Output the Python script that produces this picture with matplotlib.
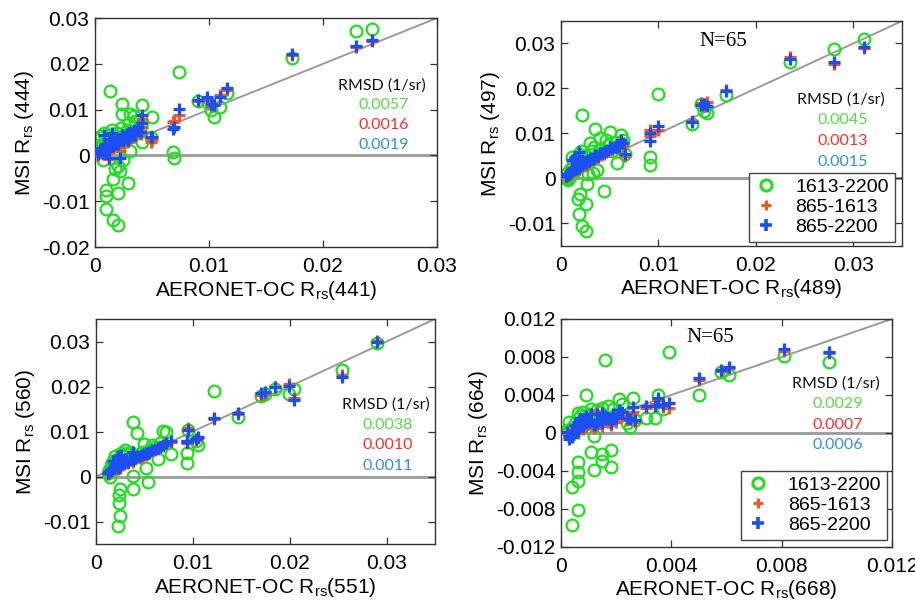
import matplotlib
matplotlib.use("Agg")
import matplotlib.pyplot as plt
from matplotlib.lines import Line2D

plt.rcParams['font.family'] = ['Liberation Sans', 'DejaVu Sans']
plt.rcParams['mathtext.default'] = 'regular'

# ---------------- data ----------------
series_labels = ["1613-2200", "865-1613", "865-2200"]

# Panel 1: 441 / 444
x441 = [0.0243, 0.0229, 0.0173, 0.0116, 0.0110, 0.0104, 0.0102, 0.0098, 0.0090, 0.0074,
        0.0068, 0.0069, 0.0050, 0.0049, 0.0041, 0.0041, 0.0040, 0.0038, 0.0035, 0.0031,
        0.0031, 0.0029, 0.0028, 0.0027, 0.0026, 0.0025, 0.0024, 0.0024, 0.0023, 0.0022,
        0.0021, 0.0020, 0.0020, 0.0020, 0.0019, 0.0018, 0.0017, 0.0016, 0.0016, 0.0015,
        0.0014, 0.0013, 0.0012, 0.0011, 0.0010, 0.0010, 0.0010, 0.0009, 0.0008, 0.0007,
        0.0006, 0.0005, 0.0004, 0.0004, 0.0003, 0.0030, 0.0034, 0.0012, 0.0022]
g444 = [0.0275, 0.0272, 0.0213, 0.0136, 0.0106, 0.0084, 0.0100, 0.0117, 0.0119, 0.0182,
        0.0007, -0.0006, 0.0084, 0.0040, 0.0110, 0.0029, 0.0065, 0.0048, 0.0075, 0.0090,
        0.0010, -0.0061, 0.0055, 0.0035, 0.0045, -0.0010, 0.0113, 0.0090, 0.0060, 0.0040,
        0.0020, -0.0023, -0.0083, -0.0152, 0.0050, -0.0030, 0.0035, -0.0052, -0.0141, 0.0055,
        0.0025, 0.0141, 0.0045, 0.0015, -0.0076, -0.0089, -0.0117, 0.0035, 0.0048, -0.0010,
        0.0020, 0.0042, 0.0022, 0.0040, 0.0010, 0.0070, 0.0085, 0.0030, -0.0034]
r444 = [0.0250, 0.0236, 0.0220, 0.0142, 0.0132, 0.0112, 0.0108, 0.0122, 0.0118, 0.0088,
        0.0072, 0.0075, 0.0034, 0.0030, 0.0080, 0.0062, 0.0047, 0.0058, 0.0040, 0.0044,
        0.0035, 0.0030, 0.0042, 0.0038, 0.0034, 0.0028, 0.0040, 0.0036, 0.0031, 0.0027,
        0.0030, 0.0026, 0.0024, 0.0022, 0.0030, 0.0020, 0.0027, 0.0018, 0.0016, 0.0025,
        0.0020, 0.0030, 0.0022, 0.0010, 0.0012, 0.0008, 0.0006, 0.0018, 0.0015, 0.0003,
        0.0012, 0.0010, 0.0006, 0.0008, 0.0002, 0.0048, 0.0052, -0.0008, 0.0010]
b444 = [0.0253, 0.0238, 0.0222, 0.0148, 0.0128, 0.0110, 0.0113, 0.0127, 0.0120, 0.0101,
        0.0058, 0.0062, 0.0040, 0.0041, 0.0088, 0.0070, 0.0052, 0.0062, 0.0045, 0.0049,
        0.0040, 0.0034, 0.0046, 0.0043, 0.0039, 0.0032, 0.0045, 0.0041, 0.0036, 0.0033,
        0.0035, 0.0031, 0.0028, 0.0026, 0.0034, 0.0025, 0.0032, 0.0022, 0.0020, 0.0050,
        0.0024, 0.0036, 0.0027, 0.0015, 0.0016, 0.0012, 0.0010, 0.0022, 0.0045, 0.0006,
        0.0016, 0.0014, 0.0009, 0.0012, 0.0004, 0.0052, 0.0055, -0.0006, -0.0005]

# Panel 2: 489 / 497
x489 = [0.0311, 0.0280, 0.0235, 0.0169, 0.0150, 0.0147, 0.0144, 0.0134, 0.0100, 0.0091,
        0.0091, 0.0066, 0.0064, 0.0062, 0.0060, 0.0057, 0.0055, 0.0052, 0.0050, 0.0048,
        0.0046, 0.0044, 0.0042, 0.0040, 0.0038, 0.0037, 0.0035, 0.0034, 0.0033, 0.0031,
        0.0030, 0.0029, 0.0027, 0.0026, 0.0026, 0.0025, 0.0024, 0.0022, 0.0022, 0.0021,
        0.0020, 0.0019, 0.0018, 0.0017, 0.0016, 0.0015, 0.0014, 0.0013, 0.0012, 0.0011,
        0.0010, 0.0009, 0.0008, 0.0007, 0.0006, 0.0005, 0.0028, 0.0018]
g497 = [0.0311, 0.0287, 0.0259, 0.0186, 0.0145, 0.0150, 0.0166, 0.0120, 0.0187, 0.0047,
        0.0031, 0.0055, 0.0085, 0.0096, 0.0070, 0.0035, 0.0080, 0.0060, 0.0103, 0.0075,
        0.0085, -0.0027, 0.0065, 0.0090, 0.0055, 0.0018, 0.0111, 0.0070, 0.0012, 0.0060,
        0.0078, 0.0040, -0.0013, -0.0057, -0.0116, 0.0050, 0.0030, 0.0140, -0.0105, 0.0060,
        -0.0034, 0.0045, -0.0078, -0.0045, 0.0035, 0.0025, 0.0040, 0.0015, 0.0030, 0.0047,
        0.0008, 0.0020, 0.0002, -0.0004, 0.0012, 0.0000, 0.0009, 0.0055]
r497 = [0.0290, 0.0255, 0.0270, 0.0196, 0.0170, 0.0160, 0.0168, 0.0128, 0.0108, 0.0107,
        0.0095, 0.0050, 0.0072, 0.0080, 0.0075, 0.0068, 0.0072, 0.0064, 0.0066, 0.0060,
        0.0058, 0.0055, 0.0052, 0.0054, 0.0047, 0.0045, 0.0050, 0.0043, 0.0040, 0.0042,
        0.0040, 0.0036, 0.0035, 0.0032, 0.0030, 0.0034, 0.0030, 0.0036, 0.0027, 0.0033,
        0.0025, 0.0028, 0.0022, 0.0020, 0.0024, 0.0018, 0.0030, 0.0016, 0.0020, 0.0017,
        0.0012, 0.0010, 0.0008, 0.0005, 0.0006, 0.0003, 0.0035, 0.0030]
b497 = [0.0293, 0.0258, 0.0266, 0.0194, 0.0162, 0.0165, 0.0163, 0.0126, 0.0116, 0.0102,
        0.0084, 0.0055, 0.0078, 0.0085, 0.0073, 0.0070, 0.0070, 0.0067, 0.0069, 0.0063,
        0.0062, 0.0058, 0.0056, 0.0057, 0.0050, 0.0049, 0.0052, 0.0046, 0.0044, 0.0045,
        0.0043, 0.0039, 0.0038, 0.0036, 0.0034, 0.0037, 0.0034, 0.0040, 0.0030, 0.0036,
        0.0028, 0.0031, 0.0026, 0.0024, 0.0027, 0.0022, 0.0048, 0.0020, 0.0024, 0.0040,
        0.0015, 0.0013, 0.0011, 0.0008, 0.0009, 0.0005, 0.0040, 0.0058]

# Panel 3: 551 / 560
x551 = [0.0290, 0.0254, 0.0204, 0.0199, 0.0185, 0.0175, 0.0170, 0.0147, 0.0122, 0.0105,
        0.0103, 0.0095, 0.0094, 0.0094, 0.0077, 0.0072, 0.0069, 0.0066, 0.0064, 0.0061,
        0.0058, 0.0055, 0.0054, 0.0052, 0.0050, 0.0048, 0.0045, 0.0042, 0.0040, 0.0038,
        0.0038, 0.0038, 0.0035, 0.0033, 0.0031, 0.0029, 0.0027, 0.0025, 0.0025, 0.0024,
        0.0024, 0.0023, 0.0023, 0.0021, 0.0020, 0.0019, 0.0018, 0.0017, 0.0016, 0.0015,
        0.0014, 0.0013, 0.0012, 0.0026, 0.0030]
g560 = [0.0296, 0.0236, 0.0195, 0.0184, 0.0195, 0.0183, 0.0180, 0.0133, 0.0189, 0.0069,
        0.0080, 0.0104, 0.0053, 0.0029, 0.0051, 0.0098, 0.0102, 0.0075, 0.0040, 0.0065,
        0.0070, 0.0060, -0.0013, 0.0018, 0.0072, 0.0055, 0.0050, 0.0096, 0.0045, 0.0122,
        0.0002, -0.0027, 0.0055, 0.0040, 0.0050, 0.0045, 0.0035, -0.0027, -0.0087, -0.0042,
        -0.0058, -0.0111, 0.0040, 0.0030, 0.0045, 0.0020, 0.0035, 0.0029, 0.0010, 0.0025,
        0.0000, 0.0015, 0.0008, 0.0052, 0.0058]
r560 = [0.0301, 0.0225, 0.0175, 0.0205, 0.0198, 0.0184, 0.0182, 0.0140, 0.0127, 0.0085,
        0.0082, 0.0108, 0.0074, 0.0080, 0.0076, 0.0072, 0.0068, 0.0068, 0.0062, 0.0060,
        0.0056, 0.0052, 0.0050, 0.0048, 0.0047, 0.0044, 0.0042, 0.0043, 0.0040, 0.0045,
        0.0035, 0.0033, 0.0036, 0.0030, 0.0033, 0.0028, 0.0026, 0.0022, 0.0020, 0.0021,
        0.0019, 0.0017, 0.0025, 0.0020, 0.0022, 0.0016, 0.0018, 0.0014, 0.0012, 0.0011,
        0.0010, 0.0008, 0.0006, 0.0030, 0.0034]
b560 = [0.0300, 0.0222, 0.0171, 0.0202, 0.0200, 0.0187, 0.0185, 0.0142, 0.0131, 0.0087,
        0.0084, 0.0104, 0.0076, 0.0078, 0.0078, 0.0075, 0.0070, 0.0066, 0.0064, 0.0062,
        0.0058, 0.0055, 0.0053, 0.0052, 0.0050, 0.0048, 0.0045, 0.0046, 0.0042, 0.0055,
        0.0038, 0.0036, 0.0040, 0.0033, 0.0036, 0.0032, 0.0030, 0.0025, 0.0023, 0.0025,
        0.0022, 0.0020, 0.0045, 0.0024, 0.0028, 0.0020, 0.0034, 0.0017, 0.0015, 0.0014,
        0.0012, 0.0010, 0.0008, 0.0048, 0.0038]

# Panel 4: 668 / 664
x668 = [0.0097, 0.0081, 0.0061, 0.0058, 0.0050, 0.0039, 0.0037, 0.0035, 0.0034, 0.0031,
        0.0026, 0.0025, 0.0024, 0.0021, 0.0020, 0.0019, 0.0018, 0.0018, 0.0017, 0.0016,
        0.0015, 0.0015, 0.0015, 0.0014, 0.0013, 0.0012, 0.0012, 0.0011, 0.0011, 0.0010,
        0.0009, 0.0009, 0.0008, 0.0008, 0.0007, 0.0006, 0.0006, 0.0006, 0.0006, 0.0006,
        0.0005, 0.0004, 0.0004, 0.0004, 0.0003, 0.0003, 0.0002, 0.0027, 0.0022, 0.0013]
g664 = [0.0075, 0.0081, 0.0061, 0.0064, 0.0040, 0.0085, 0.0025, 0.0040, 0.0016, 0.0016,
        0.0037, 0.0006, 0.0010, 0.0036, 0.0020, 0.0025, -0.0018, -0.0036, 0.0028, 0.0077,
        -0.0022, -0.0029, 0.0026, 0.0022, 0.0024, -0.0003, -0.0039, -0.0020, 0.0025, 0.0020,
        0.0040, 0.0015, 0.0022, 0.0008, 0.0018, -0.0031, -0.0041, -0.0051, -0.0081, 0.0021,
        0.0010, -0.0057, -0.0097, 0.0005, 0.0012, 0.0002, 0.0003, 0.0014, 0.0030, 0.0018]
r664 = [0.0084, 0.0086, 0.0068, 0.0065, 0.0056, 0.0026, 0.0027, 0.0035, 0.0030, 0.0026,
        0.0022, 0.0015, 0.0014, 0.0020, 0.0012, 0.0015, 0.0010, 0.0008, 0.0012, 0.0014,
        0.0007, 0.0009, 0.0016, 0.0010, 0.0008, 0.0006, 0.0005, 0.0010, 0.0012, 0.0009,
        0.0014, 0.0006, 0.0010, 0.0004, 0.0012, 0.0003, 0.0002, 0.0001, 0.0000, 0.0008,
        0.0004, -0.0002, -0.0003, -0.0001, -0.0004, -0.0002, 0.0000, 0.0012, 0.0018, 0.0022]
b664 = [0.0085, 0.0088, 0.0069, 0.0066, 0.0058, 0.0032, 0.0029, 0.0037, 0.0028, 0.0028,
        0.0027, 0.0015, 0.0016, 0.0024, 0.0016, 0.0020, 0.0013, 0.0011, 0.0016, 0.0018,
        0.0010, 0.0012, 0.0021, 0.0014, 0.0011, 0.0009, 0.0008, 0.0013, 0.0020, 0.0012,
        0.0018, 0.0010, 0.0015, 0.0007, 0.0016, 0.0005, 0.0004, 0.0003, 0.0002, 0.0012,
        0.0008, -0.0001, -0.0004, 0.0002, -0.0006, -0.0003, 0.0001, 0.0014, 0.0022, 0.0020]

rmsd_444 = ["0.0057", "0.0016", "0.0019"]
rmsd_497 = ["0.0045", "0.0013", "0.0015"]
rmsd_560 = ["0.0038", "0.0010", "0.0011"]
rmsd_664 = ["0.0029", "0.0007", "0.0006"]

xticks_1 = [0, 0.01, 0.02, 0.03]
xticklabels_1 = ["0", "0.01", "0.02", "0.03"]
yticks_1 = [-0.02, -0.01, 0, 0.01, 0.02, 0.03]
yticklabels_1 = ["-0.02", "-0.01", "0", "0.01", "0.02", "0.03"]
yticks_23 = [-0.01, 0, 0.01, 0.02, 0.03]
yticklabels_23 = ["-0.01", "0", "0.01", "0.02", "0.03"]
xticks_4 = [0, 0.004, 0.008, 0.012]
xticklabels_4 = ["0", "0.004", "0.008", "0.012"]
yticks_4 = [-0.012, -0.008, -0.004, 0, 0.004, 0.008, 0.012]
yticklabels_4 = ["-0.012", "-0.008", "-0.004", "0", "0.004", "0.008", "0.012"]

# ---------------- style ----------------
GREEN = '#22dd22'
RED = '#f05a22'
BLUE = '#1a4ff0'
TXT_G = '#55dd44'
TXT_R = '#ff2a2a'
TXT_B = '#2f8ee0'
LINEGRAY = '#9a9a9a'

fig = plt.figure(figsize=(9.15, 6.05), dpi=100)

panels = [
    dict(rect=[0.1038, 0.5917, 0.3738, 0.3785], x=x441, g=g444, r=r444, b=b444,
         xlim=(0, 0.03), ylim=(-0.02, 0.03), xt=xticks_1, xtl=xticklabels_1,
         yt=yticks_1, ytl=yticklabels_1, xl="441", yl="444", rmsd=rmsd_444,
         rpos=(0.84, [0.707, 0.62, 0.533, 0.445]), n=None, legend=None),
    dict(rect=[0.6131, 0.5934, 0.3727, 0.3719], x=x489, g=g497, r=r497, b=b497,
         xlim=(0, 0.035), ylim=(-0.015, 0.035), xt=xticks_1, xtl=xticklabels_1,
         yt=yticks_23, ytl=yticklabels_23, xl="489", yl="497", rmsd=rmsd_497,
         rpos=(0.82, [0.649, 0.56, 0.467, 0.373]), n=(0.475, 0.907), legend=(0.979, 0.018)),
    dict(rect=[0.1049, 0.1008, 0.3705, 0.3719], x=x551, g=g560, r=r560, b=b560,
         xlim=(0, 0.035), ylim=(-0.015, 0.035), xt=xticks_1, xtl=xticklabels_1,
         yt=yticks_23, ytl=yticklabels_23, xl="551", yl="560", rmsd=rmsd_560,
         rpos=(0.855, [0.618, 0.529, 0.44, 0.347]), n=None, legend=None),
    dict(rect=[0.6131, 0.0959, 0.3617, 0.3769], x=x668, g=g664, r=r664, b=b664,
         xlim=(0, 0.012), ylim=(-0.012, 0.012), xt=xticks_4, xtl=xticklabels_4,
         yt=yticks_4, ytl=yticklabels_4, xl="668", yl="664", rmsd=rmsd_664,
         rpos=(0.83, [0.715, 0.627, 0.535, 0.447]), n=(0.45, 0.92), legend=(0.985, 0.031)),
]

for p in panels:
    ax = fig.add_axes(p['rect'])
    lim_hi = p['xlim'][1]
    ax.plot([0, lim_hi], [0, lim_hi], color=LINEGRAY, lw=1.4, zorder=1)
    ax.axhline(0, color=LINEGRAY, lw=2.0, zorder=1)
    ax.plot(p['x'], p['g'], linestyle='none', marker='o', ms=8.5, mfc='none',
            mec=GREEN, mew=1.6, zorder=2)
    ax.plot(p['x'], p['r'], linestyle='none', marker='+', ms=9, mec=RED, mew=2.3, zorder=3)
    ax.plot(p['x'], p['b'], linestyle='none', marker='+', ms=9, mec=BLUE, mew=2.3, zorder=4)
    ax.set_xlim(*p['xlim'])
    ax.set_ylim(*p['ylim'])
    ax.set_xticks(p['xt'])
    ax.set_xticklabels(p['xtl'])
    ax.set_yticks(p['yt'])
    ax.set_yticklabels(p['ytl'])
    ax.tick_params(direction='in', top=True, right=True, length=5, width=0.9,
                   labelsize=15, color='#333333')
    ax.tick_params(axis='x', pad=7)
    ax.tick_params(axis='y', pad=4)
    for s in ax.spines.values():
        s.set_color('#333333')
        s.set_linewidth(1.0)
    ax.set_xlabel("AERONET-OC R$_{rs}$(" + p['xl'] + ")", fontsize=15, labelpad=2)
    ax.set_ylabel("MSI R$_{rs}$ (" + p['yl'] + ")", fontsize=15, labelpad=4)

    rx, rys = p['rpos']
    ax.text(rx, rys[0], "RMSD (1/sr)", transform=ax.transAxes, ha='center', va='center',
            fontsize=11.5, family='Lato', color='#111111')
    for val, yy, col in zip(p['rmsd'], rys[1:], [TXT_G, TXT_R, TXT_B]):
        ax.text(rx + 0.005, yy, val, transform=ax.transAxes, ha='center', va='center',
                fontsize=11.5, family='Lato', color=col)
    if p['n'] is not None:
        ax.text(p['n'][0], p['n'][1], "N=65", transform=ax.transAxes, ha='center',
                va='center', fontsize=15, family='Liberation Serif')
    if p['legend'] is not None:
        handles = [
            Line2D([], [], linestyle='none', marker='o', ms=8, mfc='none', mec=GREEN, mew=2.2),
            Line2D([], [], linestyle='none', marker='+', ms=7, mec=RED, mew=2.3),
            Line2D([], [], linestyle='none', marker='+', ms=8, mec=BLUE, mew=2.6),
        ]
        leg = ax.legend(handles, series_labels, loc='lower right',
                        bbox_to_anchor=p['legend'], bbox_transform=ax.transAxes,
                        borderaxespad=0, fancybox=False, framealpha=1, edgecolor='#444444',
                        fontsize=14, handlelength=1.2, handletextpad=0.9,
                        labelspacing=0.12, borderpad=0.3)
        leg.get_frame().set_linewidth(1.0)

fig.savefig("out.png", dpi=100)
